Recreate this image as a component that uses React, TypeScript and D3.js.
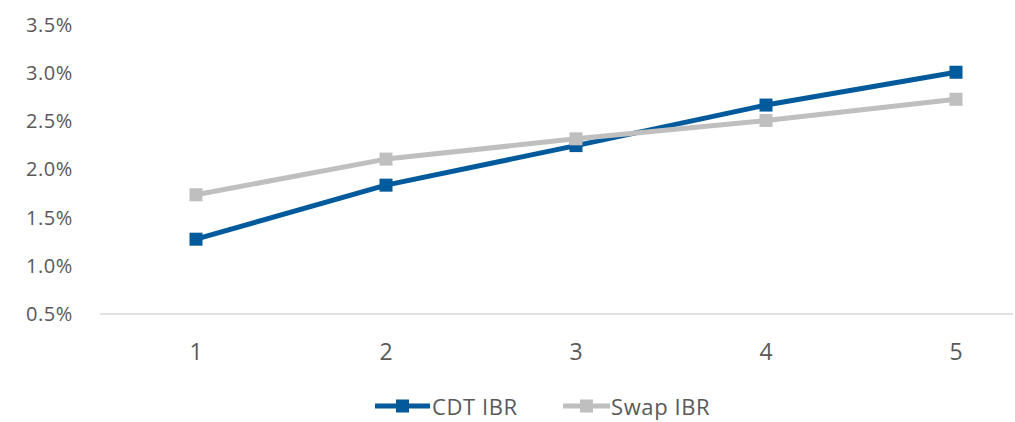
import React from "react";
import * as d3 from "d3";

const tenors = [1, 2, 3, 4, 5];
const cdtIbr = [1.27, 1.83, 2.24, 2.66, 3.0];
const swapIbr = [1.73, 2.1, 2.31, 2.5, 2.72];
const yTicks = [0.5, 1.0, 1.5, 2.0, 2.5, 3.0, 3.5];

const seriesList = [
  { name: "CDT IBR", values: cdtIbr, color: "#005a9c" },
  { name: "Swap IBR", values: swapIbr, color: "#bfbfbf" },
];

const W = 1015;
const H = 422;
const FONT = "'Open Sans', 'DejaVu Sans', sans-serif";
const TEXT = "#595959";

export default function App() {
  const x = d3
    .scaleBand<number>()
    .domain(tenors)
    .range([101, 1051])
    .padding(0);
  const cx = (t: number) => (x(t) as number) + x.bandwidth() / 2;
  const y = d3.scaleLinear().domain([0.5, 3.5]).range([313.5, 24]);
  const fmt = d3.format(".1f");

  const line = d3
    .line<number>()
    .x((_, i) => cx(tenors[i]))
    .y((v) => y(v));

  const m = 13;

  const legend = [
    { s: seriesList[0], x0: 375, x1: 430, tx: 432 },
    { s: seriesList[1], x0: 563, x1: 610, tx: 611 },
  ];
  const legendY = 406;

  return (
    <div style={{ position: "fixed", left: 0, top: 0 }}>
      <svg width={W} height={H} style={{ display: "block", background: "#fff" }}>
        {yTicks.map((t) => (
          <text
            key={t}
            x={73}
            y={y(t)}
            textAnchor="end"
            dominantBaseline="central"
            fontFamily={FONT}
            fontSize={20}
            letterSpacing={0.6}
            fill={TEXT}
          >
            {fmt(t)}%
          </text>
        ))}
        <line x1={100} x2={1013} y1={314} y2={314} stroke="#d9d9d9" strokeWidth={1.5} />
        {tenors.map((t) => (
          <text
            key={t}
            x={cx(t)}
            y={351}
            textAnchor="middle"
            dominantBaseline="central"
            fontFamily={FONT}
            fontSize={23}
            fill={TEXT}
          >
            {t}
          </text>
        ))}
        {seriesList.map((s) => (
          <g key={s.name}>
            <path
              d={line(s.values) || ""}
              fill="none"
              stroke={s.color}
              strokeWidth={5}
              strokeLinejoin="round"
            />
            {s.values.map((v, i) => (
              <rect
                key={i}
                x={cx(tenors[i]) - m / 2}
                y={y(v) - m / 2}
                width={m}
                height={m}
                fill={s.color}
              />
            ))}
          </g>
        ))}
        {legend.map(({ s, x0, x1, tx }) => (
          <g key={s.name}>
            <line x1={x0} x2={x1} y1={legendY} y2={legendY} stroke={s.color} strokeWidth={5} />
            <rect
              x={(x0 + x1) / 2 - m / 2}
              y={legendY - m / 2}
              width={m}
              height={m}
              fill={s.color}
            />
            <text
              x={tx}
              y={legendY}
              dominantBaseline="central"
              fontFamily={FONT}
              fontSize={22}
              letterSpacing={0.6}
              fill={TEXT}
            >
              {s.name}
            </text>
          </g>
        ))}
      </svg>
    </div>
  );
}
